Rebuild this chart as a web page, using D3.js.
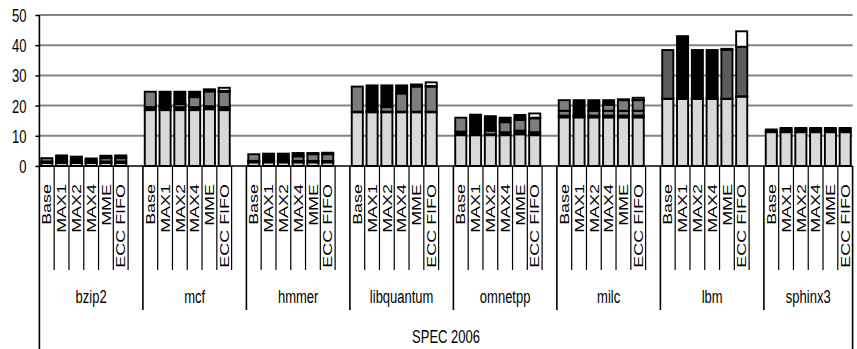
<!DOCTYPE html>
<html><head><meta charset="utf-8">
<script src="https://cdn.jsdelivr.net/npm/d3@7"></script>
<style>
html,body{margin:0;padding:0;background:#fff;}
svg{display:block;font-family:"Liberation Sans",Arial,sans-serif;}
</style></head><body>
<svg id="chart" width="857" height="349"></svg>
<script>
const benchmarks = ["bzip2","mcf","hmmer","libquantum","omnetpp","milc","lbm","sphinx3"];
const configs = ["Base","MAX1","MAX2","MAX4","MME","ECC FIFO"];
const suiteLabel = "SPEC 2006";
const yTicks = [0,10,20,30,40,50];

// Stacked components, bottom to top. One row per benchmark, one column per configuration.
const segLight = [
  [1.0,1.0,1.0,1.0,1.0,1.0],
  [18.5,18.5,18.5,18.5,18.8,18.5],
  [1.2,1.2,1.2,1.2,1.2,1.2],
  [17.8,17.8,17.8,17.8,17.8,17.8],
  [10.2,10.2,10.2,10.2,10.5,10.2],
  [16.1,16.1,16.1,16.1,16.1,16.1],
  [22.2,22.2,22.2,22.2,22.2,23.0],
  [11.2,11.2,11.2,11.2,11.2,11.2]
];
const segDark = [
  [0.5,0.5,0.5,0.5,0.5,0.5],
  [1.0,1.0,1.0,1.0,1.0,1.0],
  [0.5,0.5,0.5,0.5,0.5,0.5],
  [0.2,0.2,0.2,0.2,0.2,0.2],
  [1.2,1.2,0.3,1.0,1.2,1.0],
  [0.6,0.6,0.6,0.6,0.6,0.6],
  [0.1,0.1,0.1,0.1,0.1,0.1],
  [0.9,0.9,0.9,0.9,0.9,0.9]
];
const segMidLow = [
  [0,0,0.2,0,0,0],
  [0,0.3,1.0,0,0,0],
  [0,0,0.2,0,0,0],
  [0,0,1.5,0,0,0],
  [0,0,1.2,0,0,0],
  [1.6,0,1.6,1.6,1.6,1.6],
  [0,0,0,0,0,0],
  [0,0,0,0,0,0]
];
const segMidHigh = [
  [1.1,0,0,0.5,1.1,1.1],
  [5.1,0,0,3.3,4.9,5.1],
  [2.2,0,0,1.5,2.2,2.2],
  [8.3,0,0,6.0,8.3,8.3],
  [4.6,0,0,3.3,3.6,4.6],
  [3.5,0,0,2.0,3.5,3.5],
  [0,0,0,0,0,0],
  [0,0,0,0,0,0]
];
const segDeep = [
  [0,0,0,0,0,0],
  [0,0,0,0,0,0],
  [0,0,0,0,0,0],
  [0,0,0,0,0,0],
  [0,0,0,0,0,0],
  [0,0,0,0,0,0],
  [16.1,0,0,0,16.1,16.4],
  [0,0,0,0,0,0]
];
const segTop = [
  [0,2.0,1.4,0.5,0.8,0.3],
  [0,4.8,4.1,1.8,0.7,0.3],
  [0,2.4,2.2,1.1,0.4,0.1],
  [0,8.7,7.2,2.7,0.7,0.2],
  [0,5.6,4.8,1.5,1.6,0.2],
  [0,5.1,3.5,1.5,0.3,0.1],
  [0,20.7,16.1,16.1,0.4,0],
  [0,0.5,0.5,0.5,0.5,0.5]
];
const segFifo = [
  [0,0,0,0,0,0.6],
  [0,0,0,0,0,1.0],
  [0,0,0,0,0,0.4],
  [0,0,0,0,0,1.2],
  [0,0,0,0,0,1.4],
  [0,0,0,0,0,0.7],
  [0,0,0,0,0,5.1],
  [0,0,0,0,0,0]
];

const layerKeys = ["light","dark","midLow","midHigh","deep","top","fifo"];
const layerData = {light: segLight, dark: segDark, midLow: segMidLow, midHigh: segMidHigh,
                   deep: segDeep, top: segTop, fifo: segFifo};
const layerFill = {light:"#d9d9d9", dark:"#000000", midLow:"#808080", midHigh:"#7d7d7d",
                   deep:"#5c5c5c", top:"#000000", fifo:"#ffffff"};

const svg = d3.select("#chart");
const plot = {left: 39.4, right: 852.6, top: 15, zero: 166, bottom: 349};
const textStretch = 1.38;

// Category slots: six configurations per benchmark plus a spacer slot between benchmarks
const slots = [];
benchmarks.forEach((b, gi) => {
  configs.forEach(c => slots.push(b + "|" + c));
  if (gi < benchmarks.length - 1) slots.push(b + "|");
});

const x = d3.scaleBand().domain(slots).range([plot.left, plot.right])
  .paddingInner(0.25).paddingOuter(0.125);
const y = d3.scaleLinear().domain([0, 50]).range([plot.zero, plot.top]);
const step = x.step();
const slotStart = k => x(k) - step * 0.125;

// Horizontal gridlines
svg.append("g").selectAll("line").data(yTicks.filter(t => t > 0)).join("line")
  .attr("x1", plot.left).attr("x2", plot.right)
  .attr("y1", d => y(d)).attr("y2", d => y(d))
  .attr("stroke", "#858585").attr("stroke-width", 2);

// Value axis
const yAxis = svg.append("g").attr("transform", `translate(${plot.left},0)`)
  .call(d3.axisLeft(y).tickValues(yTicks).tickSize(4).tickSizeOuter(0).tickPadding(9));
yAxis.select(".domain").remove();
yAxis.selectAll(".tick line").attr("stroke", "#000").attr("stroke-width", 1.5);
yAxis.selectAll(".tick text")
  .attr("font-size", 13).attr("font-family", "Liberation Sans, Arial, sans-serif")
  .attr("fill", "#000").attr("dy", "0.36em")
  .attr("transform", `scale(1,${textStretch})`);

// Stacked bars
const rows = [];
benchmarks.forEach((b, gi) => configs.forEach((c, ci) => {
  const r = {slot: b + "|" + c};
  layerKeys.forEach(k => r[k] = layerData[k][gi][ci]);
  rows.push(r);
}));
const stacked = d3.stack().keys(layerKeys)(rows);

svg.append("g").selectAll("g").data(stacked).join("g")
  .attr("fill", s => layerFill[s.key])
  .selectAll("rect").data(s => s.filter(d => d[1] - d[0] > 0)).join("rect")
  .attr("x", d => x(d.data.slot))
  .attr("width", x.bandwidth())
  .attr("y", d => y(d[1]))
  .attr("height", d => y(d[0]) - y(d[1]))
  .attr("stroke", "#000").attr("stroke-width", 1.9);

// Category axis line
svg.append("line").attr("x1", plot.left).attr("x2", plot.right)
  .attr("y1", plot.zero).attr("y2", plot.zero)
  .attr("stroke", "#000").attr("stroke-width", 1.5);

// Dividers under the axis: short ones between configurations, longer ones between benchmarks
const dividers = svg.append("g").attr("stroke", "#000");
slots.forEach((k, i) => {
  if (i === 0) return;
  const isGroupStart = k.endsWith("|" + configs[0]);
  dividers.append("line")
    .attr("x1", slotStart(k)).attr("x2", slotStart(k))
    .attr("y1", plot.zero).attr("y2", isGroupStart ? 310 : 270)
    .attr("stroke-width", isGroupStart ? 1.6 : 1.2);
});
// Outer frame of the category area
dividers.append("line").attr("x1", plot.left).attr("x2", plot.left)
  .attr("y1", plot.top).attr("y2", plot.bottom).attr("stroke-width", 1.6);
dividers.append("line").attr("x1", plot.right).attr("x2", plot.right)
  .attr("y1", plot.zero).attr("y2", plot.bottom).attr("stroke-width", 1.6);

// Configuration labels (rotated)
svg.append("g").selectAll("text").data(slots.filter(k => !k.endsWith("|"))).join("text")
  .attr("transform", k => `translate(${x(k) + x.bandwidth() / 2},184) scale(1,${textStretch}) rotate(-90)`)
  .attr("text-anchor", "end").attr("dy", "0.36em")
  .attr("font-size", 13).attr("fill", "#000")
  .text(k => k.split("|")[1]);

// Benchmark labels
const groupSpan = benchmarks.map((b, gi) => {
  const mine = slots.filter(k => k.startsWith(b + "|"));
  const s = slotStart(mine[0]);
  const e = slotStart(mine[mine.length - 1]) + step;
  return {name: b, cx: (s + e) / 2};
});
svg.append("g").selectAll("text").data(groupSpan).join("text")
  .attr("transform", d => `translate(${d.cx},303) scale(1,${textStretch})`)
  .attr("text-anchor", "middle").attr("font-size", 13).attr("fill", "#000")
  .text(d => d.name);

// Suite label
svg.append("text")
  .attr("transform", `translate(${(plot.left + plot.right) / 2},343) scale(1,${textStretch})`)
  .attr("text-anchor", "middle").attr("font-size", 13).attr("fill", "#000")
  .text(suiteLabel);
</script>
</body></html>
